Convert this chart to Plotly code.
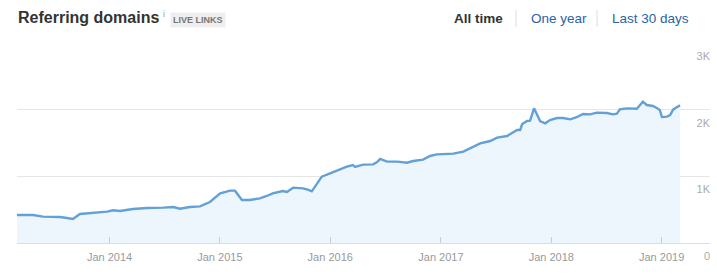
import plotly.graph_objects as go

# ---- data ----
dates = [
    "2013-03-01", "2013-04-23", "2013-05-26", "2013-07-21", "2013-08-13", "2013-09-02",
    "2013-09-25", "2013-11-07", "2013-12-24", "2014-01-13", "2014-02-05", "2014-03-19",
    "2014-05-06", "2014-06-28", "2014-07-31", "2014-08-22", "2014-09-24", "2014-10-27",
    "2014-11-29", "2015-01-02", "2015-02-04", "2015-02-20", "2015-03-15", "2015-04-10",
    "2015-05-13", "2015-06-05", "2015-06-25", "2015-07-28", "2015-08-11", "2015-08-31",
    "2015-10-03", "2015-10-19", "2015-11-01", "2015-12-04", "2016-01-10", "2016-02-02",
    "2016-02-25", "2016-03-16", "2016-03-23", "2016-04-19", "2016-05-22", "2016-06-04",
    "2016-06-14", "2016-07-07", "2016-08-09", "2016-09-11", "2016-10-01", "2016-11-03",
    "2016-11-26", "2016-12-19", "2017-02-11", "2017-03-16", "2017-04-08", "2017-05-11",
    "2017-06-13", "2017-07-06", "2017-08-08", "2017-08-28", "2017-09-10", "2017-09-20",
    "2017-09-27", "2017-10-13", "2017-10-23", "2017-11-05", "2017-11-15", "2017-11-25",
    "2017-12-12", "2017-12-28", "2018-01-20", "2018-02-09", "2018-03-05", "2018-03-28",
    "2018-04-16", "2018-05-09", "2018-06-01", "2018-07-04", "2018-07-24", "2018-08-06",
    "2018-08-16", "2018-09-08", "2018-10-11", "2018-10-31", "2018-11-13", "2018-12-03",
    "2018-12-16", "2018-12-26", "2019-01-02", "2019-01-19", "2019-01-29", "2019-02-08",
    "2019-02-21", "2019-03-03",
]
domains = [
    420, 420, 395, 390, 375, 360,
    435, 450, 470, 490, 480, 510,
    525, 530, 540, 515, 540, 550,
    615, 745, 785, 785, 645, 645,
    670, 705, 745, 780, 765, 830,
    820, 800, 775, 995, 1065, 1105,
    1145, 1170, 1140, 1175, 1180, 1215,
    1260, 1220, 1220, 1205, 1230, 1250,
    1305, 1330, 1340, 1370, 1420, 1495,
    1530, 1580, 1605, 1665, 1695, 1695,
    1785, 1830, 1835, 2020, 1920, 1830,
    1795, 1845, 1875, 1875, 1855, 1890,
    1935, 1930, 1955, 1950, 1930, 1940,
    2005, 2020, 2015, 2120, 2070, 2055,
    2025, 1995, 1890, 1895, 1920, 2000,
    2040, 2065,
]
x_tick_vals = ["2014-01-01", "2015-01-01", "2016-01-01", "2017-01-01", "2018-01-01", "2019-01-01"]
x_tick_text = ["Jan 2014", "Jan 2015", "Jan 2016", "Jan 2017", "Jan 2018", "Jan 2019"]
y_tick_vals = [0, 1000, 2000, 3000]
y_tick_text = ["0", "1K", "2K", "3K"]
x_range = ["2013-03-01", "2019-06-10"]
y_range = [0, 3000]

FONT = "Liberation Sans, Arial, Helvetica, sans-serif"

fig = go.Figure()
fig.add_trace(go.Scatter(
    x=dates, y=domains, mode="lines",
    line=dict(color="#62a0d8", width=2.4, shape="linear"),
    fill="tozeroy", fillcolor="#eef6fd",
    hoverinfo="x+y",
))

W, H = 717, 277
L, R, T, B = 17, 7, 43, 34
pw, ph = W - L - R, H - T - B


def px(x):
    return (x - L) / pw


def py(y):
    return (H - B - y) / ph


fig.update_layout(
    width=W, height=H,
    margin=dict(l=L, r=R, t=T, b=B, pad=0),
    paper_bgcolor="white", plot_bgcolor="white",
    showlegend=False,
    font=dict(family=FONT, size=11, color="#999999"),
    xaxis=dict(
        type="date", range=x_range,
        tickvals=x_tick_vals, ticktext=x_tick_text,
        ticks="inside", ticklen=6, tickwidth=1, tickcolor="#cccccc",
        showgrid=False, zeroline=False,
        showline=True, linecolor="#dddddd", linewidth=1,
        tickfont=dict(family=FONT, size=11, color="#999999"),
        ticklabelstandoff=4,
    ),
    yaxis=dict(
        range=y_range, tickvals=y_tick_vals, ticktext=y_tick_text,
        side="left", anchor="free", position=1.0,
        showgrid=True, gridcolor="#e6e6e6", gridwidth=1,
        zeroline=False, showline=False, ticks="",
        tickfont=dict(family=FONT, size=11, color="#aaaaaa"),
        ticklabelshift=13,
    ),
)

ann = [
    dict(text="<b>Referring domains</b>", x=px(16), y=py(17), xanchor="left", yanchor="middle",
         font=dict(family=FONT, size=16, color="#333333")),
    dict(text="i", x=px(161), y=py(14), xanchor="left", yanchor="middle",
         font=dict(family=FONT, size=9, color="#999999")),
    dict(text="<b>LIVE LINKS</b>", x=px(197.5), y=py(20), xanchor="center", yanchor="middle",
         font=dict(family=FONT, size=9, color="#777777"),
         bgcolor="#eeeeee", borderpad=2),
    dict(text="<b>All time</b>", x=px(505), y=py(19), xanchor="right", yanchor="middle",
         font=dict(family=FONT, size=13.5, color="#333333")),
    dict(text="One year", x=px(529), y=py(19), xanchor="left", yanchor="middle",
         font=dict(family=FONT, size=13.5, color="#2a63a8")),
    dict(text="Last 30 days", x=px(610), y=py(19), xanchor="left", yanchor="middle",
         font=dict(family=FONT, size=13.5, color="#2a63a8")),
]
for a in ann:
    a.update(xref="paper", yref="paper", showarrow=False)
fig.update_layout(annotations=ann)

shapes = []
for sx in (516, 597):
    shapes.append(dict(type="line", xref="paper", yref="paper",
                       x0=px(sx), x1=px(sx), y0=py(10), y1=py(27),
                       line=dict(color="#dddddd", width=1)))
fig.update_layout(shapes=shapes)

fig.write_html("out.html")
